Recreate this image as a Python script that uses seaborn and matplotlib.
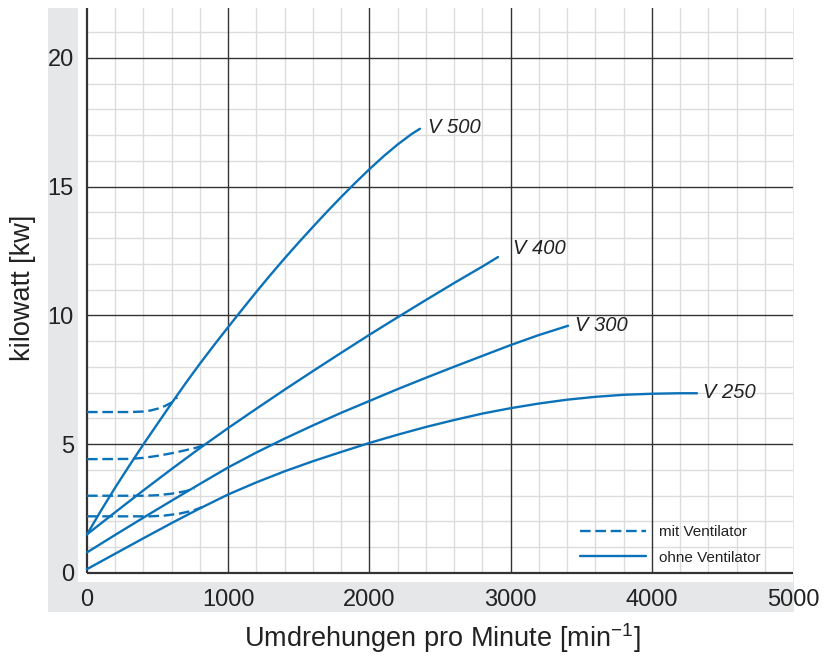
import matplotlib
matplotlib.use('Agg')
import matplotlib.pyplot as plt
from matplotlib.lines import Line2D
from matplotlib.patches import Rectangle
import numpy as np
import pandas as pd
import seaborn as sns

BLUE = '#0B72B9'
TXT = '#222222'

# ohne Ventilator (solid)
v500_rpm = [0, 100, 200, 300, 400, 500, 600, 700, 800, 900, 1000, 1100, 1200, 1300, 1400, 1500,
            1600, 1700, 1800, 1900, 2000, 2100, 2200, 2300, 2358]
v500_kw = [1.5, 2.43, 3.32, 4.17, 5.0, 5.8, 6.6, 7.38, 8.13, 8.85, 9.55, 10.24, 10.92, 11.58, 12.22, 12.84,
           13.44, 14.03, 14.6, 15.15, 15.68, 16.18, 16.64, 17.05, 17.25]

v400_rpm = [0, 200, 400, 600, 800, 1000, 1200, 1400, 1600, 1800, 2000, 2200, 2400, 2600, 2800, 2911]
v400_kw = [1.5, 2.36, 3.21, 4.04, 4.85, 5.63, 6.38, 7.12, 7.84, 8.55, 9.25, 9.93, 10.6, 11.26, 11.9, 12.27]

v300_rpm = [0, 200, 400, 600, 800, 1000, 1200, 1400, 1600, 1800, 2000, 2200, 2400, 2600, 2800, 3000, 3200, 3407]
v300_kw = [0.8, 1.48, 2.15, 2.81, 3.46, 4.1, 4.68, 5.22, 5.73, 6.22, 6.68, 7.14, 7.58, 8.01, 8.43, 8.85, 9.24, 9.6]

v250_rpm = [0, 200, 400, 600, 800, 1000, 1200, 1400, 1600, 1800, 2000, 2200, 2400, 2600, 2800, 3000,
            3200, 3400, 3600, 3800, 4000, 4200, 4320]
v250_kw = [0.15, 0.75, 1.35, 1.94, 2.51, 3.05, 3.52, 3.95, 4.34, 4.7, 5.05, 5.37, 5.67, 5.94, 6.19, 6.4,
           6.58, 6.73, 6.84, 6.92, 6.96, 6.98, 6.98]

# mit Ventilator (dashed)
v500d_rpm = [0, 300, 400, 450, 500, 550, 600, 640]
v500d_kw = [6.25, 6.25, 6.27, 6.31, 6.38, 6.48, 6.62, 6.82]
v400d_rpm = [0, 300, 400, 500, 600, 700, 770, 829]
v400d_kw = [4.42, 4.43, 4.47, 4.55, 4.65, 4.77, 4.86, 4.97]
v300d_rpm = [0, 400, 500, 600, 700, 760]
v300d_kw = [3.0, 3.0, 3.02, 3.08, 3.18, 3.28]
v250d_rpm = [0, 450, 550, 650, 750, 815]
v250d_kw = [2.2, 2.2, 2.23, 2.3, 2.42, 2.56]

names = ['V 500', 'V 400', 'V 300', 'V 250']
label_pos = [(2415, 17.3), (3017, 12.6), (3456, 9.63), (4362, 7.0)]
x_ticks = [0, 1000, 2000, 3000, 4000, 5000]
y_ticks = [0, 5, 10, 15, 20]

sns.set_theme(style='white')
plt.rcParams['font.family'] = ['Liberation Sans', 'DejaVu Sans']
plt.rcParams['mathtext.fontset'] = 'custom'
plt.rcParams['mathtext.rm'] = 'Liberation Sans'

W, H = 832, 659
fig = plt.figure(figsize=(W / 100, H / 100), dpi=100)
fig.patch.set_facecolor('white')

# grey frame behind left / bottom
fig.patches.append(Rectangle((48 / W, 1 - 612 / H), (794 - 48) / W, (612 - 8) / H,
                             transform=fig.transFigure, facecolor='#E6E7E8',
                             edgecolor='none', zorder=-5))

ax = fig.add_axes([78 / W, 1 - 582 / H, 715 / W, 574 / H])
ax.set_facecolor('white')
ax.set_xlim(-63.7, 5000)
ax.set_ylim(-0.35, 21.94)

# grid
minor_x = [x for x in range(200, 5000, 200) if x % 1000]
minor_y = [y for y in range(1, 22) if y % 5]
ax.vlines(minor_x, 0, 22, color='#DCDCDC', lw=1.0, zorder=1)
ax.hlines(minor_y, 0, 5000, color='#DCDCDC', lw=1.0, zorder=1)
ax.vlines([1000, 2000, 3000, 4000], 0, 22, color='#333333', lw=1.0, zorder=2)
ax.hlines([5, 10, 15, 20], 0, 5000, color='#333333', lw=1.0, zorder=2)
ax.vlines([0], 0, 22, color='#333333', lw=1.6, zorder=2)
ax.hlines([0], 0, 5000, color='#333333', lw=1.6, zorder=2)

solid = [(v500_rpm, v500_kw), (v400_rpm, v400_kw), (v300_rpm, v300_kw), (v250_rpm, v250_kw)]
dashed = [(v500d_rpm, v500d_kw), (v400d_rpm, v400d_kw), (v300d_rpm, v300d_kw), (v250d_rpm, v250d_kw)]

for (xs, ys), name, (lx, ly) in zip(solid, names, label_pos):
    sns.lineplot(x=xs, y=ys, ax=ax, color=BLUE, lw=1.7, estimator=None, zorder=3)
    ax.text(lx, ly, name, fontsize=14.5, style='italic', color=TXT, va='center', ha='left')

for xs, ys in dashed:
    sns.lineplot(x=xs, y=ys, ax=ax, color=BLUE, lw=1.7, estimator=None,
                 linestyle=(0, (4.5, 2)), zorder=3)

for s in ax.spines.values():
    s.set_visible(False)
ax.set_xticks(x_ticks)
ax.set_yticks(y_ticks)
ax.tick_params(length=0, labelsize=17, colors=TXT)
ax.tick_params(axis='x', pad=5)
ax.tick_params(axis='y', pad=3)
ax.set_xlabel('')
ax.set_ylabel('')

handles = [Line2D([], [], color=BLUE, lw=1.7, linestyle=(0, (4.5, 2))),
           Line2D([], [], color=BLUE, lw=1.7)]
ax.legend(handles, ['mit Ventilator', 'ohne Ventilator'], loc='upper left',
          bbox_to_anchor=(580 / W, 1 - 525 / H), bbox_transform=fig.transFigure,
          frameon=False, fontsize=11, handlelength=4.3, handletextpad=0.85,
          labelspacing=0.77, borderpad=0, borderaxespad=0, labelcolor=TXT)

fig.text(442 / W, 1 - 638 / H, 'Umdrehungen pro Minute [min$^{\\mathrm{-1}}$]',
         fontsize=19.5, color=TXT, ha='center', va='center')
fig.text(23 / W, 1 - 288 / H, 'kilowatt [kw]', fontsize=19.5, color=TXT,
         ha='center', va='center', rotation=90)

fig.savefig('out.png', dpi=100)
